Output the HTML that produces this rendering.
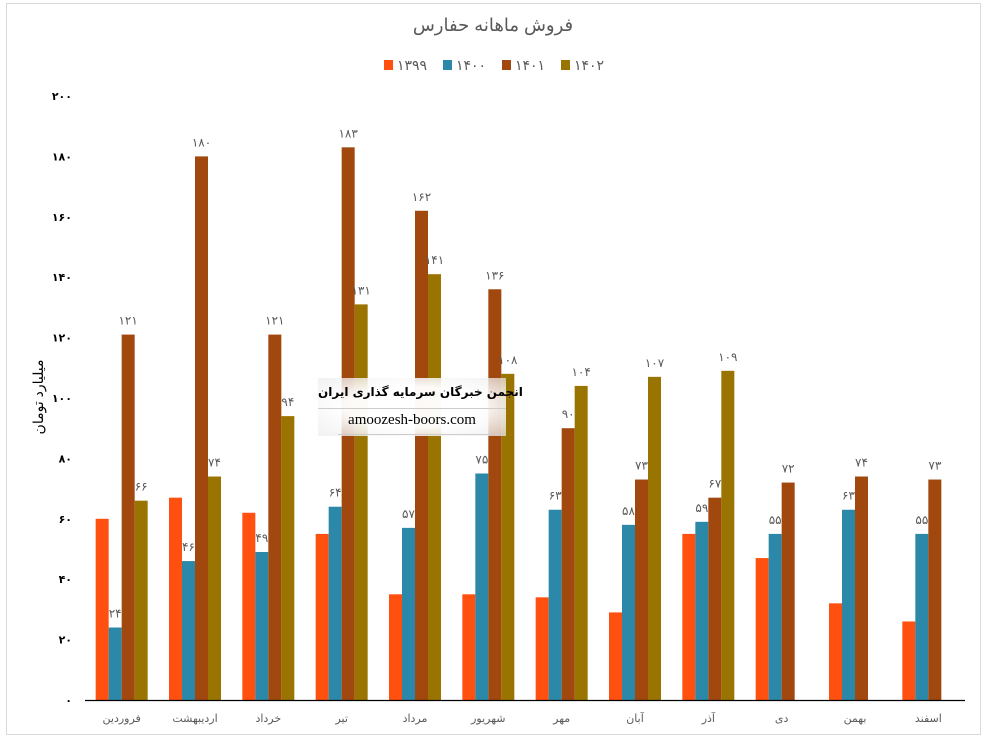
<!DOCTYPE html>
<html><head><meta charset="utf-8">
<style>
body{margin:0;background:#fff;}
#wrap{position:relative;width:987px;height:740px;overflow:hidden;font-family:"Liberation Sans","Noto Sans CJK SC",sans-serif;}
#frame{position:absolute;left:6px;top:3px;width:975px;height:732px;border:1px solid #d9d9d9;box-sizing:border-box;}
svg text{font-family:"Liberation Sans","Noto Sans CJK SC","DejaVu Sans",sans-serif;}
#wm{position:absolute;left:318px;top:378px;width:188px;height:58px;background:radial-gradient(ellipse at center,rgba(255,255,255,0.97) 50%,rgba(235,235,235,0.7) 100%);}
</style></head><body>
<div id="wrap">
<div id="frame"></div>
<svg id="chart" width="987" height="740" style="position:absolute;left:0;top:0"></svg>
<div id="wm">
 <div style="position:absolute;left:0;right:0;top:7px;text-align:center;font-weight:bold;font-size:12px;white-space:nowrap;font-family:'DejaVu Sans',sans-serif;">انجمن خبرگان سرمایه گذاری ایران</div>
 <div style="position:absolute;left:0;right:0;top:30px;border-top:1px solid #ccc;"></div>
 <div style="position:absolute;left:0;right:0;top:34px;text-align:center;font-size:15px;font-family:'Liberation Serif',serif;">amoozesh-boors.com</div>
 <div style="position:absolute;left:20px;right:0;top:56px;border-top:1px solid #ccc;"></div>
</div>
</div>
<script>
const categories=["فروردین","اردیبهشت","خرداد","تیر","مرداد","شهریور","مهر","آبان","آذر","دی","بهمن","اسفند"];
const seriesNames=["1399","1400","1401","1402"];
const s1399=[60,67,62,55,35,35,34,29,55,47,32,26];
const s1400=[24,46,49,64,57,75,63,58,59,55,63,55];
const s1401=[121,180,121,183,162,136,90,73,67,72,74,73];
const s1402=[66,74,94,131,141,108,104,107,109,null,null,null];
const yTicks=[0,20,40,60,80,100,120,140,160,180,200];
const colors=["#FF5010","#2B88A8","#A0480E","#9A7400"];
const series=[s1399,s1400,s1401,s1402];
const showLabels=[false,true,true,true];
const NS="http://www.w3.org/2000/svg";
const svg=document.getElementById('chart');
const fa=n=>String(n).replace(/\d/g,d=>"۰۱۲۳۴۵۶۷۸۹"[d]);
const x0=85,x1=965,y0=700,yTop=96,yMax=200;
const catW=(x1-x0)/categories.length,barW=13,pad=(catW-4*barW)/2;
const yS=v=>y0-(v/yMax)*(y0-yTop);
function mk(tag,attrs){const e=document.createElementNS(NS,tag);for(const k in attrs)e.setAttribute(k,attrs[k]);svg.appendChild(e);return e;}
let t=mk('text',{x:493,y:31,'text-anchor':'middle','font-size':18,fill:'#595959'});t.textContent="فروش ماهانه حفارس";


const legX=[384,443,502,561];
seriesNames.forEach((n,i)=>{
 const r=mk('rect',{x:legX[i],y:60,width:9,height:10,fill:colors[i]});
 
 
 const lt=mk('text',{x:legX[i]+13,y:70,'font-size':14,fill:'#595959'});lt.textContent=fa(n);
 
 
});
yTicks.forEach(v=>{
 const e=mk('text',{x:72,y:yS(v)+4,'text-anchor':'end','font-size':11,'font-weight':'bold',fill:'#000'});e.textContent=fa(v);
 
 
});
const yt=mk('text',{x:0,y:0,'text-anchor':'middle','font-size':14,fill:'#000',transform:'translate(43,397) rotate(-90)'});yt.textContent="میلیارد تومان";


categories.forEach((c,ci)=>{
 series.forEach((s,si)=>{
  const v=s[ci];if(v==null)return;
  const x=x0+ci*catW+pad+si*barW;
  const b=mk('rect',{x:x,y:yS(v),width:barW,height:y0-yS(v),fill:colors[si]});
  
  
  if(showLabels[si]){
   const l=mk('text',{x:x+barW/2,y:yS(v)-10,'text-anchor':'middle','font-size':12,fill:'#595959'});l.textContent=fa(v);
   
   
  }
 });
 const cl=mk('text',{x:x0+ci*catW+catW/2,y:722,'text-anchor':'middle','font-size':11,fill:'#595959'});cl.textContent=c;
 
 
});
const ax=mk('line',{x1:x0,y1:y0+0.5,x2:x1,y2:y0+0.5,stroke:'#000','stroke-width':1.3});


</script>
</body></html>
